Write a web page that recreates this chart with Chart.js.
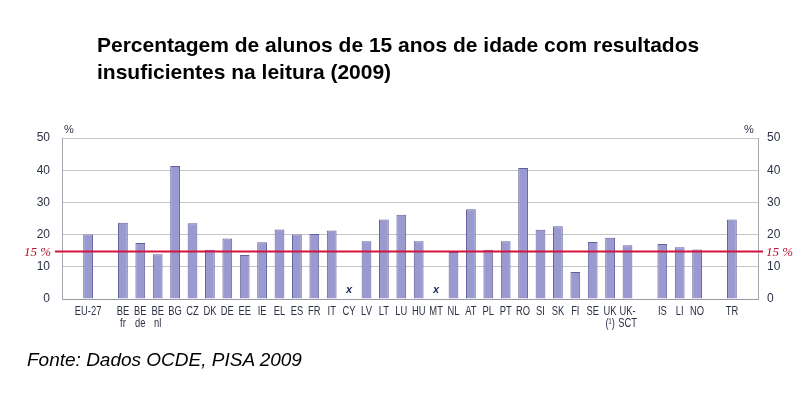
<!DOCTYPE html>
<html>
<head>
<meta charset="utf-8">
<script src="https://cdn.jsdelivr.net/npm/chart.js@4"></script>
<style>
  html, body { margin: 0; padding: 0; background: #fff; width: 807px; height: 398px; overflow: hidden; }
  #wrap { position: relative; width: 807px; height: 398px; }
  canvas { position: absolute; left: 0; top: 0; }
  #title { position: absolute; left: 97px; top: 31px; font: bold 21px "Liberation Sans", Arial, sans-serif; line-height: 27px; color: #000; white-space: nowrap; }
  #source { position: absolute; left: 27px; top: 349px; font: italic 19px "Liberation Sans", Arial, sans-serif; line-height: 22px; color: #000; white-space: nowrap; }
</style>
</head>
<body>
<div id="wrap">
  <canvas id="c" width="807" height="398"></canvas>
  <div id="title">Percentagem de alunos de 15 anos de idade com resultados<br>insuficientes na leitura (2009)</div>
  <div id="source">Fonte: Dados OCDE, PISA 2009</div>
</div>
<script>
// ---- data ----
const categories = ['', 'EU-27', '', ['BE','fr'], ['BE','de'], ['BE','nl'], 'BG', 'CZ', 'DK', 'DE', 'EE', 'IE', 'EL', 'ES', 'FR', 'IT', 'CY', 'LV', 'LT', 'LU', 'HU', 'MT', 'NL', 'AT', 'PL', 'PT', 'RO', 'SI', 'SK', 'FI', 'SE', ['UK','(¹)'], ['UK-','SCT'], '', 'IS', 'LI', 'NO', '', 'TR', ''];
const lowAchievers = [null, 20.0, null, 23.7, 17.4, 13.9, 41.3, 23.5, 15.3, 18.8, 13.7, 17.6, 21.6, 20.0, 20.2, 21.3, null, 17.9, 24.7, 26.2, 17.9, null, 14.6, 27.9, 15.3, 17.9, 40.7, 21.5, 22.6, 8.4, 17.7, 19.0, 16.7, null, 17.1, 16.1, 15.4, null, 24.7, null];
const notAvailable = ['CY', 'MT'];
const benchmark = 15;
const benchmarkLabel = '15 %';
const yTicks = [0, 10, 20, 30, 40, 50];

const tickFont = { family: '"Liberation Sans", Arial, sans-serif', size: 12 };
const tickColor = '#2c3246';

const overlay = {
  id: 'overlay',
  afterDatasetsDraw(chart) {
    const ctx = chart.ctx;
    const y = chart.scales.y;
    const x = chart.scales.x;
    const area = chart.chartArea;
    ctx.save();
    // benchmark line
    const py = Math.round(y.getPixelForValue(benchmark)) + 0.5;
    ctx.strokeStyle = '#d4143c';
    ctx.lineWidth = 2;
    ctx.beginPath();
    ctx.moveTo(area.left - 7, py);
    ctx.lineTo(area.right + 5, py);
    ctx.stroke();
    ctx.fillStyle = '#b4102e';
    ctx.font = 'italic 13px "Liberation Serif", "Times New Roman", serif';
    ctx.textBaseline = 'middle';
    ctx.textAlign = 'right';
    ctx.fillText(benchmarkLabel, area.left - 11, py + 1);
    ctx.textAlign = 'left';
    ctx.fillText(benchmarkLabel, area.right + 8, py + 1);
    // % unit labels
    ctx.fillStyle = tickColor;
    ctx.font = '11px "Liberation Sans", sans-serif';
    ctx.textAlign = 'center';
    ctx.textBaseline = 'alphabetic';
    ctx.fillText('%', area.left + 7, area.top - 5);
    ctx.fillText('%', area.right - 9, area.top - 5);
    // not-available markers
    ctx.fillStyle = '#1e2a5c';
    ctx.font = 'italic bold 11px "Liberation Sans", Arial, sans-serif';
    ctx.textBaseline = 'middle';
    categories.forEach((c, i) => {
      if (typeof c === 'string' && notAvailable.includes(c)) {
        ctx.fillText('x', x.getPixelForValue(i), y.getPixelForValue(0) - 9);
      }
    });
    // condensed category labels
    ctx.fillStyle = tickColor;
    ctx.font = '12px "Liberation Sans", Arial, sans-serif';
    ctx.textAlign = 'center';
    ctx.textBaseline = 'alphabetic';
    const sx = 0.78;
    const base = y.getPixelForValue(0) + 16;
    categories.forEach((c, i) => {
      const lines = Array.isArray(c) ? c : [c];
      const px = x.getPixelForValue(i);
      lines.forEach((ln, k) => {
        ctx.save();
        ctx.translate(px, base + k * 12);
        ctx.scale(sx, 1);
        ctx.fillText(ln, 0, 0);
        ctx.restore();
      });
    });
    ctx.restore();
  }
};

new Chart(document.getElementById('c'), {
  type: 'bar',
  data: {
    labels: categories,
    datasets: [{
      data: lowAchievers,
      backgroundColor: '#9a9ad0',
      borderColor: '#60609e',
      borderWidth: 1,
      barPercentage: 0.56,
      categoryPercentage: 1.0
    }]
  },
  options: {
    responsive: false,
    animation: false,
    layout: { padding: { top: 138, left: 0, right: 0, bottom: 0 } },
    plugins: { legend: { display: false }, tooltip: { enabled: false } },
    scales: {
      x: {
        grid: { display: false },
        border: { display: false },
        ticks: { display: false },
        afterFit(s) { s.height = 99; }
      },
      y: {
        position: 'left',
        min: 0, max: 50,
        afterBuildTicks(s) { s.ticks = []; for (let v = 0; v <= 50; v += 5) s.ticks.push({ value: v }); },
        ticks: {
          font: tickFont, color: tickColor, padding: 12,
          callback: (v) => yTicks.includes(v) ? String(v) : ''
        },
        grid: {
          drawTicks: false,
          color: (c) => c.tick && c.tick.value === 45 ? '#c4c4e6' : (c.tick && c.tick.value === 0 ? '#9a9aa4' : '#c6c6c6'),
          lineWidth: (c) => c.tick && c.tick.value === 45 ? 2 : 1
        },
        border: { display: true, color: '#a8a8b0' },
        afterFit(s) { s.width = 62; }
      },
      y2: {
        position: 'right',
        min: 0, max: 50,
        afterBuildTicks(s) { s.ticks = []; for (let v = 0; v <= 50; v += 5) s.ticks.push({ value: v }); },
        ticks: {
          font: tickFont, color: tickColor, padding: 9,
          callback: (v) => yTicks.includes(v) ? String(v) : ''
        },
        grid: { drawOnChartArea: false, drawTicks: false },
        border: { display: true, color: '#a8a8b0' },
        afterFit(s) { s.width = 49; }
      }
    }
  },
  plugins: [overlay]
});
</script>
</body>
</html>
